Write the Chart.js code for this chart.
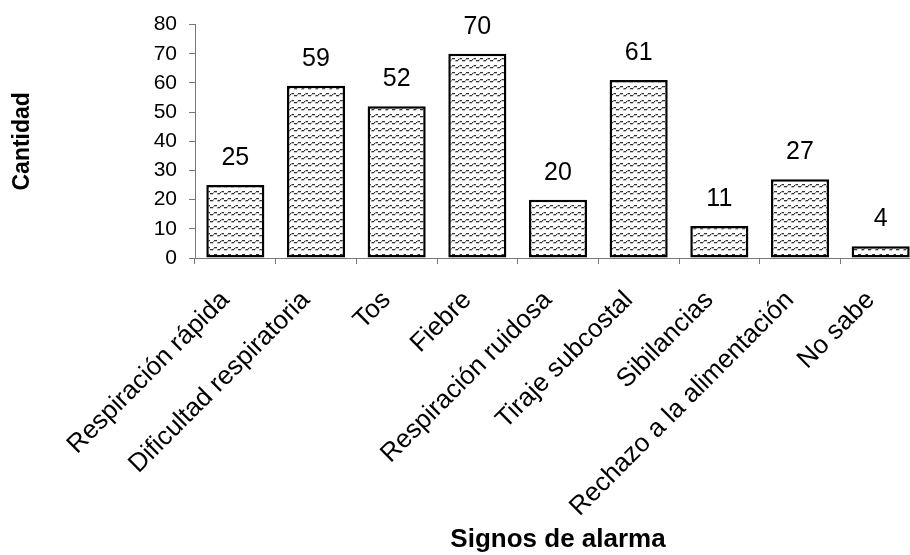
<!DOCTYPE html>
<html>
<head>
<meta charset="utf-8">
<script src="https://cdn.jsdelivr.net/npm/chart.js@4/dist/chart.umd.min.js"></script>
<style>
  html, body { margin: 0; padding: 0; overflow: hidden; background: #fff; width: 910px; height: 555px; }
  canvas { display: block; }
</style>
</head>
<body>
<canvas id="c" width="930" height="555"></canvas>
<script>
const categories = [
  "Respiración rápida",
  "Dificultad respiratoria",
  "Tos",
  "Fiebre",
  "Respiración ruidosa",
  "Tiraje subcostal",
  "Sibilancias",
  "Rechazo a la alimentación",
  "No sabe"
];
const cantidad = [25, 59, 52, 70, 20, 61, 11, 27, 4];
const yTicks = [0, 10, 20, 30, 40, 50, 60, 70, 80];
const xTitle = "Signos de alarma";
const yTitle = "Cantidad";

const FONT = "Arial, 'Liberation Sans', Helvetica, sans-serif";

function makePattern() {
  const p = document.createElement('canvas');
  p.width = 14; p.height = 7;
  const g = p.getContext('2d');
  g.fillStyle = '#ffffff';
  g.fillRect(0, 0, 14, 7);
  for (let x = 0; x < 14; x++) {
    const y = Math.round(3 + 1.4 * Math.sin(2 * Math.PI * (x + 0.5) / 7));
    g.fillStyle = (x % 4 === 3) ? '#999999' : '#333333';
    g.fillRect(x, y, 1, 1);
    g.fillStyle = 'rgba(80,80,80,0.35)';
    g.fillRect(x, y + 1, 1, 1);
  }
  return g.createPattern(p, 'repeat');
}

const valueLabels = {
  id: 'valueLabels',
  afterDatasetsDraw(chart) {
    const ctx = chart.ctx;
    const meta = chart.getDatasetMeta(0);
    ctx.save();
    ctx.font = "25px " + FONT;
    ctx.fillStyle = '#000';
    ctx.textAlign = 'center';
    ctx.textBaseline = 'middle';
    meta.data.forEach((bar, i) => {
      ctx.fillText(String(cantidad[i]), bar.x, bar.y - 27);
    });
    ctx.restore();
  }
};

const ctx = document.getElementById('c').getContext('2d');
new Chart(ctx, {
  type: 'bar',
  data: {
    labels: categories,
    datasets: [{
      data: cantidad,
      backgroundColor: makePattern(),
      borderColor: '#000',
      borderWidth: 2.5,
      borderSkipped: false,
      categoryPercentage: 1,
      barPercentage: 0.72
    }]
  },
  options: {
    responsive: false,
    devicePixelRatio: 1,
    animation: false,
    layout: { padding: { top: 24, right: 9, bottom: 0, left: 0 } },
    plugins: { legend: { display: false }, tooltip: { enabled: false } },
    scales: {
      x: {
        grid: { display: true, drawOnChartArea: false, drawTicks: true, tickLength: 6, color: '#777', offset: true },
        border: { color: '#777', width: 1 },
        ticks: {
          color: '#000', font: { family: FONT, size: 26 },
          minRotation: 45, maxRotation: 45, autoSkip: false, padding: 21, labelOffset: -10
        },
        title: { display: true, text: xTitle, color: '#000', font: { family: FONT, size: 26, weight: 'bold', lineHeight: 1.2 }, padding: { top: 0, bottom: 0 } },
        afterFit(scale) { scale.height = 297; }
      },
      y: {
        min: 0, max: 80,
        afterBuildTicks(scale) { scale.ticks = yTicks.map(v => ({ value: v })); },
        grid: { display: true, drawOnChartArea: false, drawTicks: true, tickLength: 6, color: '#777' },
        border: { color: '#777', width: 1 },
        ticks: { color: '#000', font: { family: FONT, size: 21 }, padding: 12 },
        title: { display: true, text: yTitle, color: '#000', font: { family: FONT, size: 23, weight: 'bold', lineHeight: 1.2 }, padding: { top: 9, bottom: 0 } },
        afterFit(scale) { scale.width = 195; }
      }
    }
  },
  plugins: [valueLabels]
});
</script>
</body>
</html>
